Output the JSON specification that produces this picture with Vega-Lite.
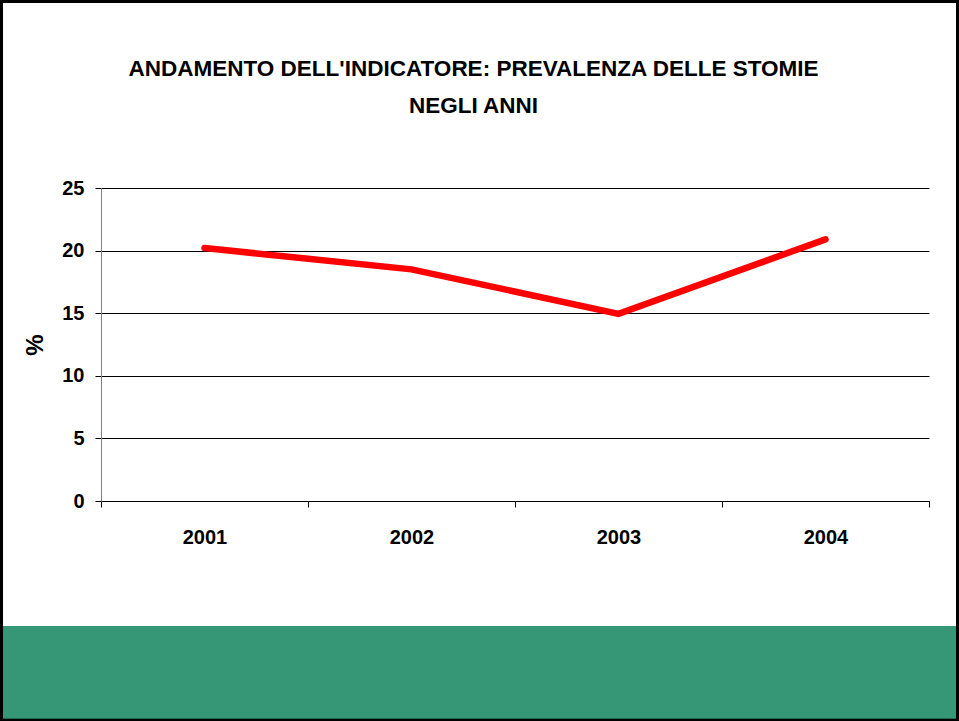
{
  "$schema": "https://vega.github.io/schema/vega-lite/v6.json",
  "width": 959,
  "height": 721,
  "autosize": {"type": "none"},
  "padding": 0,
  "background": "white",
  "config": {
    "view": {"stroke": "black", "strokeWidth": 6, "fill": "white"},
    "font": "Liberation Sans"
  },
  "title": {
    "text": ["ANDAMENTO DELL'INDICATORE: PREVALENZA DELLE STOMIE", "NEGLI ANNI"],
    "font": "Liberation Sans",
    "fontSize": 22.5,
    "fontWeight": "bold",
    "color": "black",
    "anchor": "middle",
    "frame": "group",
    "offset": -117,
    "dx": -6,
    "baseline": "top",
    "lineHeight": 37
  },
  "data": {
    "values": [
      {"anno": "2001", "valore": 20.2},
      {"anno": "2002", "valore": 18.5},
      {"anno": "2003", "valore": 14.95},
      {"anno": "2004", "valore": 20.9}
    ]
  },
  "resolve": {"scale": {"x": "independent"}, "axis": {"x": "independent"}},
  "layer": [
    {
      "mark": {"type": "line", "color": "#FF0000", "strokeWidth": 6.5, "strokeCap": "round", "strokeJoin": "miter"},
      "encoding": {
        "x": {
          "field": "anno",
          "type": "ordinal",
          "scale": {"type": "band", "range": [101, 929], "paddingInner": 0, "paddingOuter": 0},
          "axis": {
            "title": null,
            "offset": -220,
            "labelAngle": 0,
            "labelFont": "Liberation Sans",
            "labelFontSize": 20,
            "labelFontWeight": "bold",
            "labelColor": "black",
            "labelPadding": 20,
            "tickBand": "extent",
            "tickColor": "black",
            "tickSize": 6,
            "domainColor": "black",
            "domainWidth": 1,
            "grid": false
          }
        },
        "y": {
          "field": "valore",
          "type": "quantitative",
          "scale": {"domain": [0, 25], "range": [501, 188], "nice": false, "zero": true},
          "axis": {
            "title": "%",
            "titleFont": "Liberation Sans",
            "titleFontSize": 24,
            "titleFontWeight": "bold",
            "titleColor": "black",
            "titlePadding": 14,
            "offset": -101,
            "values": [0, 5, 10, 15, 20, 25],
            "labelFont": "Liberation Sans",
            "labelFontSize": 20,
            "labelFontWeight": "bold",
            "labelColor": "black",
            "labelPadding": 11,
            "tickColor": "black",
            "tickSize": 6,
            "domainColor": "#808080",
            "grid": true,
            "gridColor": "black",
            "gridWidth": 1,
            "gridOpacity": 1
          }
        }
      }
    },
    {
      "mark": {"type": "rect", "color": "#359776"},
      "encoding": {
        "x": {"datum": 0, "type": "quantitative", "scale": {"domain": [0, 1], "range": [3, 956]}, "axis": null},
        "x2": {"datum": 1},
        "y": {"datum": -10, "type": "quantitative"},
        "y2": {"datum": -17.35}
      }
    }
  ]
}
